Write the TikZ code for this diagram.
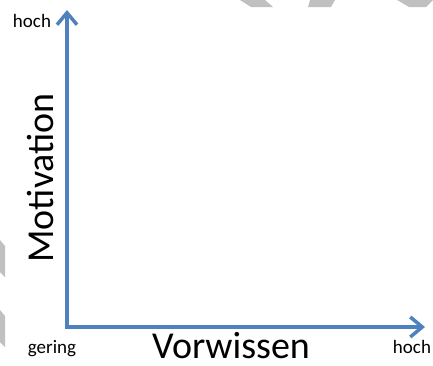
\documentclass[tikz,border=0pt]{standalone}
\usepackage{fontspec}
\setmainfont{Carlito}
\usepackage{xcolor}
\usepackage{tikz}
\usetikzlibrary{arrows.meta}

\definecolor{axisblue}{RGB}{79,129,189}
\definecolor{markgray}{RGB}{192,192,192}

\begin{document}
\begin{tikzpicture}[x=1pt, y=-1pt,
    axis/.style={draw=axisblue, line width=3.5pt,
        {Straight Barb[length=12pt, width=20pt, line width=3.5pt]}-{Straight Barb[length=12pt, width=20pt, line width=3.5pt]}},
    small/.style={font=\fontsize{19}{22}\selectfont, inner sep=0pt},
    big/.style={font=\fontsize{38}{40}\selectfont, inner sep=0pt}]
\useasboundingbox (0, 0) rectangle (433, 365);

% faint marks at the edges
\fill [markgray] (240, 0) -- (265, 0) -- (273, 7) -- (251, 7) -- cycle;
\fill [markgray] (310, 0) -- (335, 0) -- (331, 7) -- (308, 7) -- cycle;
\fill [markgray] (397, 0) -- (433, 0) -- (426, 7) -- (409, 7) -- cycle;
\fill [markgray] (0, 240) -- (5, 246) -- (5, 277) -- (0, 272) -- cycle;
\fill [markgray] (0, 310) -- (5, 316) -- (5, 347) -- (0, 342) -- cycle;

\coordinate (origin) at (67, 327);
\coordinate (ytip) at (67, 10);
\coordinate (xtip) at (425, 327);

\draw [axis] (ytip) -- (origin) -- (xtip);

\node [small] (yhigh) at (32, 21) {hoch};
\node [small] (xlow) at (52, 349) {gering};
\node [small] (xhigh) at (412, 347) {hoch};
\node [big] (xlabel) at (231, 346) {Vorwissen};
\node [big, rotate=90] (ylabel) at (41, 178) {Motivation};
\end{tikzpicture}
\end{document}
